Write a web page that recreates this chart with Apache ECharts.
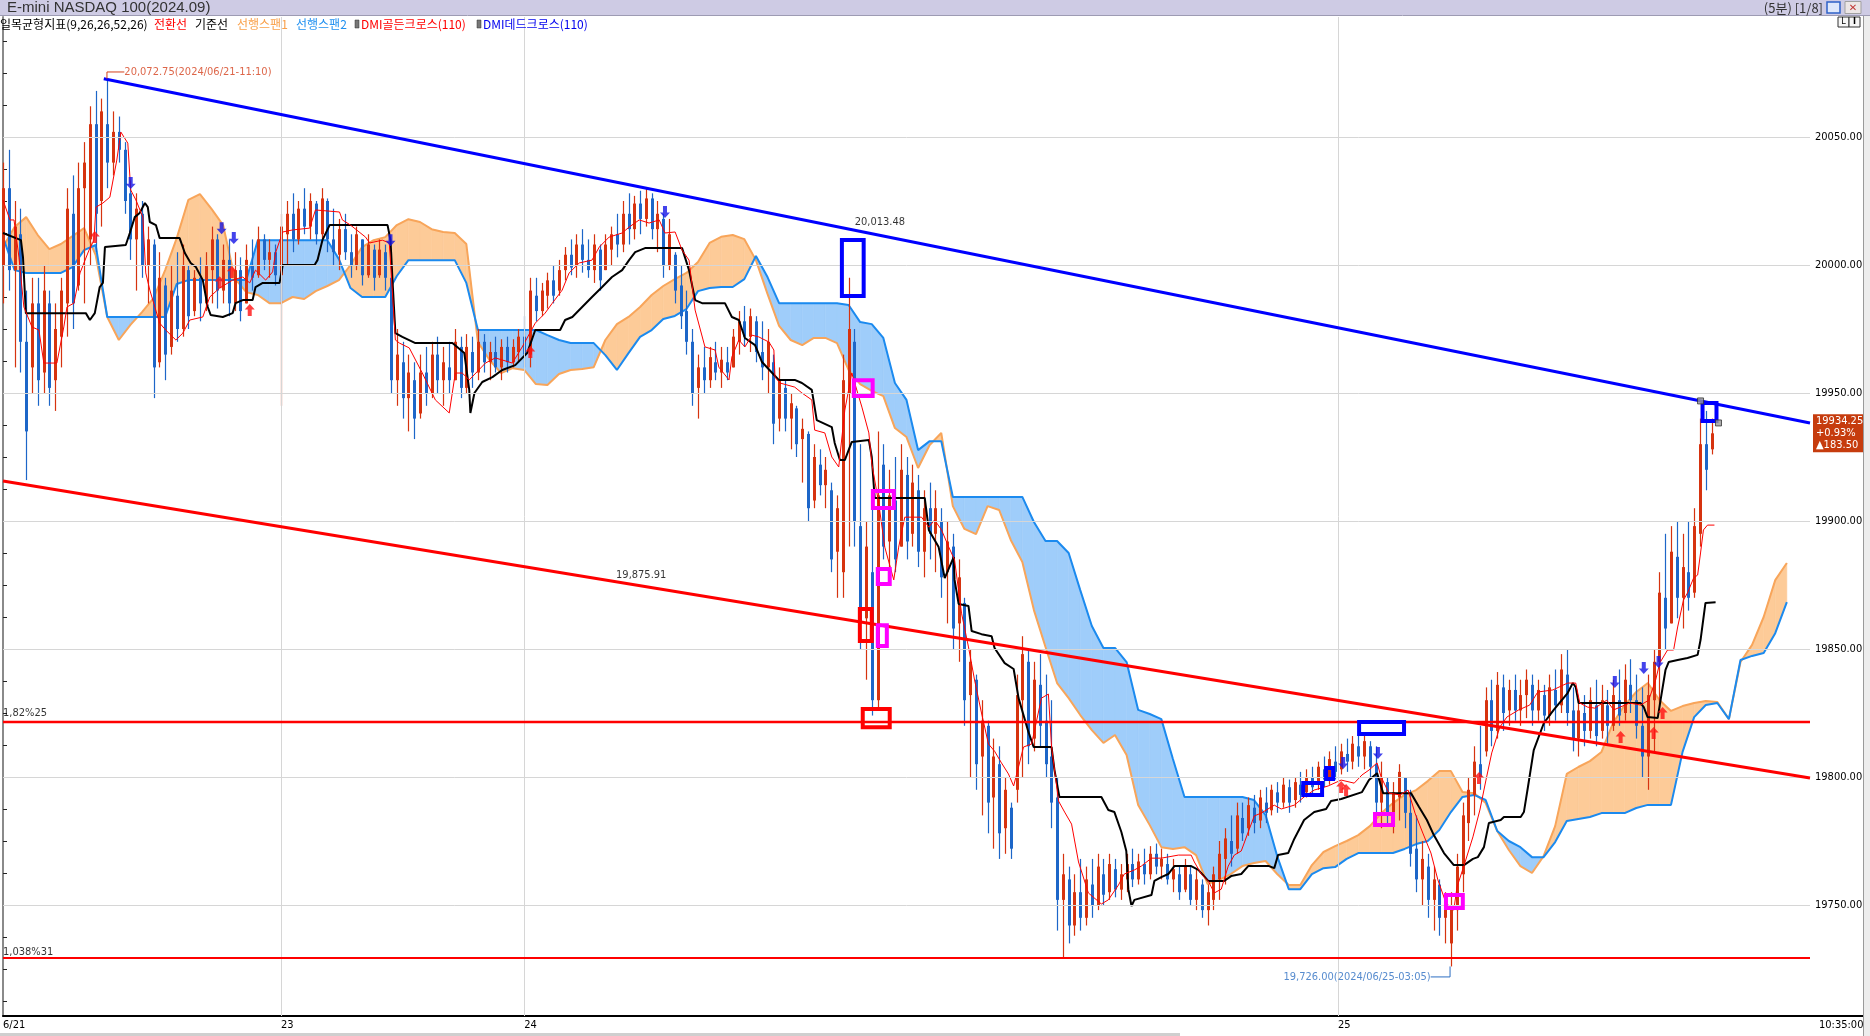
<!DOCTYPE html>
<html><head><meta charset="utf-8">
<script src="https://cdn.jsdelivr.net/npm/echarts/dist/echarts.min.js"></script>
<style>html,body{margin:0;padding:0;background:#fff;overflow:hidden}#c{width:1870px;height:1036px}</style>
</head><body><div id="c"></div><script>
// ---------- DATA ----------
const TITLE = 'E-mini NASDAQ 100(2024.09)';
const PERIOD = '(5분) [1/8]';
const X_TICKS = [0, 96, 180, 461, 624];
const X_TICK_LABELS = ['6/21', '23', '24', '25', '10:35:00'];
const X_GRID = [96, 180, 461];
const Y_LABELS = [19750, 19800, 19850, 19900, 19950, 20000, 20050];
const Y_MIN = 19706.64, Y_MAX = 20096.875, X_MAX = 624;

// 5-minute candles (one drawn every CANDLE_STEP bars): [open, close, low, high]
const CANDLE_STEP = 2;
const CANDLES = [
[20000,20030,19985,20040],[20030,19998,19990,20045],[19998,20015,19960,20025],[20012,19970,19958,20022],[19970,19935,19916,19990],
[19960,19985,19950,19995],[19985,19955,19945,19995],[19958,19990,19950,20000],[19985,19952,19945,19990],[19955,19975,19943,19985],
[19972,19990,19960,19995],[19985,20022,19972,20030],[20020,19985,19975,20035],[19992,20030,19990,20040],[20030,20040,19985,20048],
[20010,20055,20000,20062],[20055,20020,20005,20068],[20025,20060,20015,20065],[20055,20040,20030,20072.75],[20040,20052,20035,20060],
[20052,20045,20040,20058],[20045,20025,20020,20048],[20028,20010,20002,20033],[20010,20022,19990,20028],[20020,20000,19995,20025],
[20000,20010,19985,20015],[20008,19960,19948,20010],[19962,19995,19960,20005],[19992,19965,19955,19995],[19968,19990,19965,20000],
[19988,19975,19970,20005],[19975,20000,19972,20008],[19998,19980,19975,20000],[19982,19995,19980,19998],[19995,19985,19978,20003],
[19985,20000,19982,20005],[19998,20010,19985,20015],[20010,19990,19983,20012],[19990,20002,19985,20008],[20002,19985,19980,20010],
[19985,19998,19982,20005],[19998,19982,19978,20003],[19985,20002,19985,20008],[20000,19995,19990,20010],[19996,20010,19995,20015],
[20010,20002,19998,20012],[20002,20005,19995,20010],[20005,19996,19992,20008],[19996,20015,19945,20020],[20012,20020,20000,20025],
[20020,20010,20005,20028],[20010,20022,20008,20025],[20022,20015,20012,20030],[20015,20025,20010,20028],[20024,20012,20008,20025],
[20012,20026,20010,20030],[20025,20010,20005,20026],[20010,20005,20000,20022],[20004,20014,19998,20018],[20014,20005,20002,20020],
[20005,20000,19995,20012],[20000,20012,19998,20015],[20010,19996,19992,20010],[19996,20008,19995,20012],[20006,19995,19990,20008],
[19996,20006,19995,20010],[20005,19995,19990,20008],[19995,19955,19950,20005],[19955,19965,19945,19975],[19962,19948,19940,19970],
[19948,19958,19935,19965],[19955,19940,19932,19962],[19942,19958,19940,19965],[19958,19950,19945,19968],[19950,19965,19948,19970],
[19965,19955,19950,19972],[19955,19962,19945,19968],[19960,19955,19950,19970],[19955,19970,19955,19975],[19968,19952,19948,19972],
[19952,19968,19950,19973],[19966,19958,19952,19972],[19958,19970,19955,19975],[19970,19962,19958,19973],[19962,19966,19955,19970],
[19966,19960,19958,19972],[19960,19968,19955,19971],[19968,19962,19958,19972],[19962,19968,19960,19971],[19966,19972,19962,19975],
[19972,19965,19960,19980],[19965,19990,19960,19995],[19988,19982,19978,19995],[19982,19990,19980,19993],[19988,19994,19983,19997],
[19994,19988,19985,20000],[19990,19998,19988,20002],[19998,20004,19994,20007],[20004,19999,19996,20010],[20000,20008,19995,20012],
[20008,20002,19997,20014],[20002,19998,19995,20010],[19998,20008,19993,20012],[20006,19994,19990,20008],[19998,20008,19998,20012],
[20006,20012,20000,20015],[20012,20008,20003,20020],[20008,20020,20005,20025],[20020,20014,20008,20028],[20014,20024,20010,20027],
[20024,20018,20012,20029],[20018,20026,20015,20030],[20026,20014,20010,20028],[20014,20020,20005,20025],[20018,20000,19995,20020],
[20000,20012,19998,20018],[20004,19990,19985,20005],[19992,19980,19975,20000],[19982,19970,19965,19990],[19970,19950,19945,19975],
[19952,19960,19940,19965],[19960,19955,19950,19968],[19955,19964,19952,19968],[19962,19958,19955,19970],[19958,19963,19952,19968],
[19962,19958,19955,19968],[19960,19972,19960,19975],[19970,19978,19965,19982],[19978,19972,19968,19984],[19972,19980,19966,19983],
[19978,19966,19962,19980],[19966,19960,19955,19978],[19960,19970,19950,19975],[19962,19938,19930,19965],[19940,19955,19935,19960],
[19952,19940,19935,19955],[19940,19946,19928,19950],[19944,19930,19925,19945],[19932,19936,19915,19940],[19934,19905,19900,19935],
[19908,19925,19905,19930],[19922,19914,19910,19928],[19914,19920,19905,19925],[19912,19885,19880,19915],[19888,19905,19870,19910],
[19880,19955,19870,19965],[19950,19975,19890,19995],[19970,19900,19890,19975],[19898,19860,19850,19930],[19862,19890,19838,19900],
[19880,19830,19824,19905],[19830,19910,19826,19935],[19922,19890,19885,19930],[19892,19910,19875,19920],[19908,19885,19880,19925],
[19890,19920,19890,19930],[19918,19892,19885,19925],[19895,19915,19890,19922],[19912,19888,19882,19918],[19888,19905,19878,19912],
[19905,19895,19885,19915],[19895,19905,19880,19912],[19900,19878,19870,19905],[19880,19892,19860,19900],[19890,19858,19850,19895],
[19860,19878,19845,19885],[19868,19830,19820,19870],[19832,19845,19800,19850],[19838,19805,19795,19840],[19808,19822,19785,19830],
[19820,19790,19778,19822],[19792,19808,19772,19815],[19805,19778,19768,19812],[19780,19795,19770,19800],[19788,19772,19768,19790],
[19795,19832,19790,19840],[19830,19848,19800,19855],[19845,19812,19805,19850],[19815,19838,19810,19845],[19836,19820,19812,19848],
[19822,19805,19800,19840],[19808,19790,19780,19830],[19792,19752,19740,19800],[19752,19762,19729,19770],[19760,19742,19735,19765],
[19742,19755,19738,19762],[19755,19745,19740,19768],[19745,19760,19742,19765],[19758,19750,19745,19768],[19750,19765,19748,19770],
[19762,19754,19750,19768],[19755,19766,19752,19770],[19764,19756,19753,19768],[19756,19762,19752,19766],[19760,19766,19755,19770],
[19766,19760,19757,19772],[19760,19767,19758,19770],[19766,19762,19758,19772],[19762,19770,19760,19773],[19770,19765,19762,19774],
[19765,19768,19760,19772],[19766,19760,19758,19770],[19760,19764,19755,19768],[19762,19755,19752,19765],[19756,19765,19755,19768],
[19762,19752,19750,19765],[19752,19760,19748,19764],[19758,19748,19745,19760],[19748,19755,19742,19758],[19752,19762,19748,19765],
[19760,19770,19752,19775],[19768,19776,19758,19780],[19775,19770,19765,19785],[19772,19785,19770,19790],[19784,19778,19775,19790],
[19780,19789,19777,19792],[19788,19782,19778,19793],[19783,19792,19780,19795],[19790,19786,19782,19796],[19787,19795,19785,19797],
[19794,19790,19786,19798],[19790,19797,19788,19800],[19796,19790,19786,19799],[19791,19798,19788,19800],[19797,19793,19790,19802],
[19794,19800,19792,19803],[19800,19796,19793,19804],[19797,19804,19795,19806],[19803,19799,19796,19808],[19800,19807,19797,19810],
[19806,19802,19799,19812],[19803,19810,19801,19813],[19809,19806,19802,19815],[19806,19813,19803,19816],[19812,19808,19804,19818],
[19808,19814,19803,19817],[19812,19804,19800,19814],[19805,19790,19785,19812],[19790,19800,19780,19806],[19798,19786,19782,19800],
[19786,19794,19778,19798],[19792,19802,19783,19805],[19800,19786,19780,19800],[19786,19770,19765,19795],[19772,19760,19755,19785],
[19760,19768,19750,19775],[19765,19752,19745,19770],[19752,19760,19740,19765],[19758,19745,19738,19760],[19745,19750,19735,19755],
[19735,19750,19726,19755],[19748,19765,19740,19770],[19762,19785,19755,19790],[19782,19795,19775,19800],[19793,19806,19785,19812],
[19805,19800,19795,19820],[19810,19830,19808,19835],[19830,19818,19812,19838],[19818,19836,19815,19841],[19835,19825,19818,19840],
[19826,19834,19820,19838],[19834,19826,19822,19840],[19826,19832,19820,19838],[19832,19838,19823,19842],[19836,19826,19820,19840],
[19826,19834,19822,19838],[19832,19824,19818,19836],[19824,19835,19820,19840],[19834,19828,19822,19842],[19828,19842,19825,19848],
[19840,19825,19820,19850],[19826,19815,19810,19835],[19815,19826,19808,19830],[19825,19818,19812,19832],[19818,19830,19815,19835],
[19828,19816,19812,19838],[19818,19830,19815,19836],[19828,19820,19813,19834],[19820,19832,19818,19838],[19830,19824,19820,19842],
[19825,19838,19822,19844],[19836,19830,19825,19846],[19830,19820,19815,19840],[19820,19808,19800,19835],[19808,19832,19795,19840],
[19830,19845,19810,19850],[19845,19872,19825,19880],[19870,19858,19850,19895],[19860,19888,19860,19898],[19886,19870,19862,19900],
[19870,19882,19858,19895],[19880,19870,19865,19900],[19872,19898,19870,19905],[19895,19930,19890,19940],[19930,19920,19912,19943],
[19928,19934.25,19926,19940]
];

// Ichimoku: leading spans sampled every SPAN_STEP bars (already shifted 26 ahead)
const SPAN_STEP = 4;
const SPAN1 = [
20007.0,20014.8,20018.7,20011.7,20006.2,20008.2,20011.3,20014.4,20003.9,19979.7,
19970.7,19976.6,19981.6,19987.1,19998.0,20010.5,20025.4,20027.7,20021.9,20015.6,
19994.9,19989.4,19988.3,19985.1,19985.1,19987.5,19986.7,19989.8,19991.8,19994.1,
20000.0,20007.0,20009.7,20010.9,20015.6,20017.9,20016.8,20014.0,20012.9,20012.5,
20008.2,19969.9,19962.9,19957.8,19959.7,19959.0,19953.5,19953.1,19957.4,19959.0,
19959.4,19960.1,19970.7,19976.9,19979.7,19983.6,19988.3,19991.8,19994.5,19996.9,
20001.2,20008.6,20011.0,20011.7,20010.1,20001.9,19988.7,19976.2,19970.7,19968.7,
19971.5,19971.5,19969.5,19959.0,19953.5,19950.8,19948.8,19936.3,19932.8,19920.7,
19929.7,19934.4,19905.8,19896.9,19894.9,19905.8,19904.3,19892.6,19884.0,19865.2,
19850.8,19836.7,19830.8,19824.2,19818.3,19813.3,19816.4,19808.6,19789.1,19781.2,
19772.6,19771.9,19772.6,19769.5,19758.2,19759.8,19762.1,19765.2,19766.4,19767.2,
19762.1,19757.8,19757.8,19765.6,19770.7,19773.0,19775.0,19777.3,19780.8,19785.9,
19789.8,19793.0,19794.9,19798.4,19802.3,19802.3,19794.1,19793.7,19789.8,19778.9,
19771.5,19765.2,19762.5,19769.1,19780.8,19801.2,19803.9,19806.2,19809.8,19821.1,
19828.1,19833.2,19836.7,19830.1,19825.8,19827.7,19828.9,19829.7,19829.3,19822.6,
19844.9,19851.6,19862.5,19876.9,19883.6
];
const SPAN2 = [
20010.9,19998.0,19996.9,19996.9,19996.9,19996.9,19999.2,20005.8,20007.8,19979.7,
19979.7,19979.7,19979.7,19979.7,19979.7,19992.6,19994.1,19994.1,19994.1,19994.1,
19994.1,19994.1,20009.7,20009.7,20009.7,20009.7,20009.7,20009.7,20009.7,20002.3,
19991.0,19987.5,19987.5,19987.5,19995.7,20001.9,20001.9,20001.9,20001.9,20001.9,
19993.0,19974.6,19974.6,19974.6,19974.6,19974.6,19974.6,19972.6,19970.7,19969.5,
19969.5,19969.5,19964.8,19959.0,19965.6,19971.9,19974.6,19978.9,19980.1,19982.8,
19989.8,19991.0,19991.4,19991.4,19994.5,20003.5,19995.3,19985.1,19985.1,19985.1,
19985.1,19985.1,19985.1,19984.4,19977.7,19976.9,19971.5,19953.9,19947.3,19927.7,
19931.2,19931.2,19909.4,19909.4,19909.4,19909.4,19909.4,19909.4,19909.4,19899.6,
19892.2,19892.2,19887.5,19873.0,19859.0,19850.4,19850.4,19844.9,19826.2,19824.6,
19822.6,19807.0,19792.2,19792.2,19792.2,19792.2,19792.2,19792.2,19791.0,19785.1,
19769.1,19756.2,19756.2,19762.1,19764.4,19764.8,19768.0,19770.3,19770.3,19770.3,
19770.3,19771.9,19773.8,19775.0,19779.3,19786.3,19792.2,19793.0,19791.0,19778.9,
19775.0,19772.6,19768.7,19768.7,19774.6,19782.8,19783.6,19784.4,19785.9,19785.9,
19785.9,19787.9,19789.1,19789.1,19789.1,19809.8,19823.4,19828.1,19828.9,19822.6,
19845.7,19847.3,19848.4,19856.2,19868.3
];
// base line (기준선) and conversion line (전환선): [bar index, value]
const KIJUN = [[0,20012.5],[6.2,20009.7],[6.9,20003.1],[7.9,19981.2],[28.6,19981.2],[30,19978.5],[31.7,19981.2],[33.4,19991.4],[34.5,19993],[35.2,20007],[42.4,20007.8],[43.8,20012.5],[45.5,20018.7],[47.2,20020.3],[49,20024.2],[50,20022.6],[50.7,20016.8],[52.8,20015.6],[54.1,20010.5],[61,20010.5],[62.8,20004.7],[64.8,20000.8],[66.6,19999.2],[69,19994.1],[70.7,19983.6],[71.7,19980.5],[75.9,19979.7],[79.3,19981.2],[80.3,19985.1],[82.8,19986.3],[86.2,19986.3],[87.2,19991.4],[89.7,19993],[95.5,19993],[96.6,20000],[107.6,20000],[108.6,20001.9],[110.3,20009.7],[112.8,20015.6],[132.8,20015.6],[133.8,20009.7],[134.5,19994.1],[135.5,19973.4],[137.9,19971.9],[142.4,19969.5],[155.2,19969.5],[159.3,19965.6],[161,19951.2],[161.4,19942.2],[162.8,19950],[165.5,19954.3],[169,19956.2],[172.4,19959],[176.9,19960.9],[181,19965.6],[183.8,19974.6],[192.4,19974.6],[194.1,19978.5],[196.6,19979.7],[200,19983.6],[203.4,19987.5],[206.9,19991.4],[210.3,19995.3],[213.8,19998],[216.2,20001.9],[218.3,20005],[221.7,20006.6],[234.5,20006.6],[236.9,19998],[239,19986.3],[241.4,19985.1],[249.3,19985.1],[251.7,19979.7],[254.1,19978.5],[256.2,19971.5],[259.7,19968.7],[262.1,19962.1],[267.9,19955.1],[273.4,19955.1],[275.9,19953.9],[279.3,19951.2],[281,19939.4],[286.2,19936.7],[287.2,19930.5],[289,19923.8],[290.7,19923.8],[293.1,19930.9],[299,19931.6],[300,19925],[301,19909],[318.3,19909],[319.7,19896.5],[323.1,19889.8],[325.2,19877.7],[328.3,19885.9],[328.6,19877],[330,19867.6],[333.4,19866.8],[334.5,19857],[337.9,19855.8],[341.4,19855],[342.4,19850.4],[345.9,19844.5],[349,19842.2],[350.7,19830.8],[354.1,19817.6],[355.9,19811.7],[362.1,19811.7],[363.1,19802.7],[364.8,19792.2],[379.3,19792.2],[381.7,19787.1],[383.8,19786.3],[386.2,19778.5],[387.9,19771.1],[388.6,19756.2],[389.7,19749.6],[390.7,19752],[396.6,19753.9],[397.6,19759.4],[400,19760.9],[402.4,19762.1],[404.5,19765.2],[410.3,19765.2],[412.8,19763.7],[416.2,19759.4],[421.7,19759.4],[424.1,19761.3],[427.6,19762.1],[430,19765.2],[437.2,19765.2],[439,19764.4],[440.3,19769.5],[443.8,19770.3],[445.9,19775.8],[449.3,19783.2],[452.8,19786.3],[456.9,19787.5],[458.6,19790.6],[462.1,19791.4],[469.3,19794.1],[471.7,19798.8],[474.5,19801.5],[476.6,19793.7],[486.2,19793.7],[489,19788.3],[491.7,19783.2],[494.1,19777.3],[497.6,19770.3],[501,19765.6],[504.5,19765.6],[507.6,19768],[509.3,19768.7],[511.4,19772.6],[513.1,19782],[517.2,19783.2],[518.3,19784.4],[524.1,19784.4],[525.2,19786.3],[526.6,19796.1],[528.6,19810.5],[532.1,19821.1],[535.5,19826.2],[540.3,19832.8],[542.1,19836.7],[543.1,19835.1],[544.1,19828.9],[565.5,19828.9],[566.6,19827.3],[567.9,19823.4],[571.4,19823],[572.4,19830],[574.1,19841.8],[575.2,19844.9],[578.3,19845.7],[581.7,19846.5],[585.2,19847.7],[586.2,19853.5],[587.9,19868],[591.4,19868.3]];
const TENKAN = [[0,20025.4],[2.4,20017.6],[3.8,20017.6],[5.5,20003.1],[7.2,19983.6],[10,19975.8],[12.4,19974.6],[14.1,19961.7],[18.6,19961.7],[21,19975.8],[22.1,19983.6],[24.5,19985.1],[26.6,19996.9],[29.7,20005.8],[31.4,20009.7],[32.1,20022.6],[34.5,20024.2],[36.9,20026.5],[39.3,20041],[40.7,20051.9],[43.1,20047.6],[44.1,20029.3],[45.9,20025.4],[48.3,20018.7],[49.3,19996.9],[50.7,19990.2],[54.1,19977.3],[56.2,19974.6],[59.7,19970.7],[62.1,19973.4],[64.5,19978.5],[69,19979.7],[71.4,19987.5],[74.8,19991],[79.3,19994.1],[82.8,19995.3],[85.2,19993],[87.2,19998],[90.7,19994.1],[93.1,19997.3],[94.1,20004.7],[96.6,20012.9],[100,20013.7],[105.9,20014.4],[107.9,20021.5],[116.2,20020.7],[117.2,20017.6],[120,20015.6],[125.2,20010.9],[126.6,20008.6],[131,20009.7],[133.4,20008.6],[135.5,19970.7],[136.9,19969.5],[140.3,19967.6],[144.8,19957.8],[149.3,19947.3],[154.1,19942.2],[156.2,19957.8],[158.6,19957.8],[161,19955.1],[166.6,19961.7],[170,19963.7],[172.4,19962.9],[175.9,19961.7],[179.3,19968],[183.8,19977.3],[187.2,19981.2],[189.7,19985.1],[193.1,19990.2],[195.5,19996.9],[199,20000.8],[203.4,20001.9],[205.9,20007],[209.3,20010.9],[213.8,20012.5],[216.2,20014.8],[219.7,20017.6],[223.1,20016.4],[226.6,20017.6],[228.6,20012.5],[232.1,20012.9],[234.5,20005.8],[236.9,20001.9],[239,19982.4],[242.4,19968],[245.9,19966.8],[247.2,19960.1],[250.7,19955.1],[251.7,19964.1],[254.1,19970.7],[256.2,19968],[258.6,19972.6],[261,19971.9],[264.5,19969.9],[266.2,19966.8],[266.6,19956.2],[268.3,19953.9],[273.4,19952.3],[275.9,19950],[279.3,19947.3],[280.3,19935.5],[283.8,19934.4],[286.2,19925],[288.6,19921.1],[290.7,19943.3],[293.1,19957.8],[296.6,19944.5],[299,19934.4],[300,19922.6],[302.4,19907],[304.5,19889.8],[307.6,19877],[309.3,19889.8],[311.4,19901.5],[317.2,19901.5],[319.7,19897.6],[321.7,19900.4],[324.1,19896.5],[326.6,19889.8],[328.6,19884.8],[331,19864],[333.4,19850.8],[335.5,19837.9],[337.9,19825],[340.3,19812.9],[342.4,19810.1],[344.8,19805.5],[347.2,19801.2],[349,19796.5],[350.7,19804],[352.4,19811.7],[355.2,19812.9],[358.6,19830.8],[361,19832.4],[362.1,19811.7],[364.5,19790.6],[366.6,19786.3],[369,19781.6],[371.4,19766.8],[374.8,19754.7],[379.3,19750.4],[381.7,19752],[385.2,19757.8],[387.2,19762.1],[390.7,19763.7],[393.1,19765.2],[396.6,19768.3],[400,19768.3],[405.9,19769.5],[410.3,19769.5],[411.4,19766.8],[413.8,19762.1],[416.2,19759.4],[418.3,19754.7],[420.7,19756.2],[423.1,19765.2],[425.2,19769.5],[427.6,19771.1],[430,19778.5],[432.1,19784.8],[434.5,19785.9],[439,19789],[441.4,19787.5],[445.9,19789],[449.3,19792.2],[452.8,19794.9],[457.6,19796.5],[462.1,19798.8],[466.6,19797.6],[469.3,19800.8],[471.7,19802.7],[474.5,19805.5],[475.9,19800],[478.6,19793.7],[482.4,19793],[485.2,19794.9],[487.6,19785.9],[490.3,19778.1],[493.1,19770.3],[495.5,19759.8],[498.3,19750.8],[501,19748],[502.1,19757],[504.8,19766.4],[507.6,19776.6],[510,19787.1],[512.1,19798.8],[514.1,19809.4],[516.9,19819.5],[519.3,19823.4],[523.4,19826.2],[527.2,19828.1],[530,19833.2],[535.2,19834],[540.3,19836.7],[543.1,19836.7],[544.5,19828.9],[547.2,19827.3],[549.7,19826.9],[553.8,19830],[556.2,19826.2],[561.7,19828.9],[565.5,19828.1],[568.3,19830],[570.7,19837.9],[572.1,19844.5],[574.8,19849.6],[576.9,19849.6],[578.3,19858.6],[580.3,19869.1],[581.7,19871.9],[583.8,19877.7],[585.2,19878.9],[586.2,19887.5],[587.2,19896.5],[588.6,19898.4],[591,19898.4]];

// drawn trend lines / levels
const BLUE_TREND = [[34.8, 20072.75], [624, 19938.3]];
const RED_TREND = [[0, 19915.6], [624, 19799.6]];
const RED_LEVEL = 19821.5;
const LOW_LEVEL = 19729.3;
const BLUE_TREND_LABEL = [294.1, 20016.8, '20,013.48'];
const RED_TREND_LABEL = [211.7, 19878.9, '19,875.91'];
const LEVEL_LABELS = [[0, 19825.0, '1,82%25'], [0, 19731.6, '1,038%31']];
const HIGH_MARK = {x: 35.9, v: 20072.75, textX: 41.9, textV: 20075.4, text: '20,072.75(2024/06/21-11:10)'};
const LOW_MARK = {x: 499.7, v: 19726.0, textX: 493.0, textV: 19721.9, text: '19,726.00(2024/06/25-03:05)'};

// boxes: [x0, x1, topValue, bottomValue]
const BOX_BLUE = [[289.0,297.9,20010.5,19987.1],[586.2,592.4,19946.9,19938.3],[467.6,484.5,19822.3,19816.0],[456.2,460.0,19804.3,19798.4],[448.3,456.2,19798.4,19792.2]];
const BOX_MAGENTA = [[293.1,301.0,19955.8,19948.0],[299.7,308.3,19912.5,19904.3],[301.4,306.9,19882.0,19874.6],[301.4,305.9,19860.1,19850.4],[473.1,480.7,19786.3,19780.5],[497.6,504.8,19754.7,19748.0]];
const BOX_RED = [[295.2,300.7,19866.4,19852.3],[296.2,306.9,19827.3,19818.7]];
const BOX_HANDLES = [[586.2,19946.9],[592.4,19938.3]];

// DMI cross signals
const DMI_DEAD = [[44.1,20032.0],[75.5,20014.4],[79.7,20010.5],[133.8,20009.7],[228.6,20020.7],[462.8,19805.5],[474.8,19809.4],[556.6,19837.1],[566.6,19842.6],[571.7,19844.9]];
const DMI_GOLDEN = [[31.7,20010.9],[74.8,19993.3],[79.0,19997.3],[85.2,19982.4],[182.1,19966.0],[462.1,19796.1],[463.8,19794.9],[509.7,19799.6],[558.6,19815.6],[570.0,19817.2],[573.1,19825.0]];

const LAST_CLOSE = 19934.25, LAST_PCT = '+0.93%', LAST_CHG = '183.50';
const LEGEND = [
  ['일목균형지표(9,26,26,52,26)', 0, '#000000'], ['전환선', 154, '#ff0000'], ['기준선', 195, '#000000'],
  ['선행스팬1', 237, '#f9a04a'], ['선행스팬2', 296, '#1e8ff0'], ['DMI골든크로스(110)', 361, '#ff0000'], ['DMI데드크로스(110)', 483, '#0000ee']
];

// ---------- STYLE ----------
const NARROW = "'Liberation Sans Narrow','DejaVu Sans Condensed','Liberation Sans',sans-serif";
const KR = "'Noto Sans CJK KR','Noto Sans',sans-serif";
const C_UP = '#d6330f', C_DN = '#1d66c8';
const C_ORANGE_FILL = '#fdcb98', C_BLUE_FILL = '#9fcdfa';

function renderCandle(params, api) {
  const x = api.value(0), o = api.value(1), c = api.value(2), l = api.value(3), h = api.value(4);
  const pl = api.coord([x, l]), ph = api.coord([x, h]);
  const po = api.coord([x, o]), pc = api.coord([x, c]);
  const col = c >= o ? C_UP : C_DN;
  const cx = Math.round(pl[0]);
  const top = Math.min(po[1], pc[1]), bot = Math.max(po[1], pc[1]);
  return {type: 'group', children: [
    {type: 'line', shape: {x1: cx + 0.5, y1: ph[1], x2: cx + 0.5, y2: pl[1]}, style: {stroke: col, lineWidth: 1.2}},
    {type: 'rect', shape: {x: cx - 1, y: top, width: 3, height: Math.max(1.5, bot - top)}, style: {fill: col}}
  ]};
}

function renderCloud(params, api) {
  const ch = [];
  for (let i = 0; i < SPAN1.length - 1; i++) {
    const xa = i * SPAN_STEP, xb = (i + 1) * SPAN_STEP;
    const a0 = SPAN1[i], a1 = SPAN1[i + 1], b0 = SPAN2[i], b1 = SPAN2[i + 1];
    const d0 = a0 - b0, d1 = a1 - b1;
    const poly = (pts, up) => ch.push({type: 'polygon', shape: {points: pts.map(p => api.coord(p))},
      style: {fill: up ? C_ORANGE_FILL : C_BLUE_FILL, stroke: up ? C_ORANGE_FILL : C_BLUE_FILL, lineWidth: 0.6}});
    if (d0 * d1 >= 0) {
      poly([[xa, a0], [xb, a1], [xb, b1], [xa, b0]], (d0 + d1) >= 0);
    } else {
      const t = d0 / (d0 - d1), xm = xa + t * (xb - xa), ym = a0 + t * (a1 - a0);
      poly([[xa, a0], [xm, ym], [xa, b0]], d0 > 0);
      poly([[xm, ym], [xb, a1], [xb, b1]], d1 > 0);
    }
  }
  return {type: 'group', children: ch};
}

function renderBox(params, api) {
  const p0 = api.coord([api.value(0), api.value(2)]);
  const p1 = api.coord([api.value(1), api.value(3)]);
  return {type: 'rect', shape: {x: p0[0] + 2, y: p0[1] + 2, width: p1[0] - p0[0] - 4, height: p1[1] - p0[1] - 4},
    style: {fill: 'transparent', stroke: api.visual('color'), lineWidth: 4}};
}

function boxSeries(data, color) {
  return {type: 'custom', z: 6, silent: true, data: data, encode: {x: [0, 1], y: [2, 3]},
    itemStyle: {color: color}, renderItem: renderBox};
}
function lineSeries(data, color, width, z) {
  return {type: 'line', z: z, silent: true, data: data, symbol: 'none', showSymbol: false,
    lineStyle: {color: color, width: width}, animation: false};
}
function textSeries(items, color, pos) {
  return {type: 'scatter', z: 9, silent: true, symbolSize: 0,
    data: items.map(t => ({value: [t[0], t[1]], label: {show: true, formatter: t[2]}})),
    label: {show: true, position: pos, distance: 0, color: color, fontSize: 11, fontFamily: NARROW}};
}

const yTicks = [];
for (let v = 19712.5; v <= 20090; v += 12.5) yTicks.push(v);

const graphic = [
  {type: 'rect', z: 100, shape: {x: 0, y: 0, width: 1870, height: 15}, style: {fill: '#cecbe4'}},
  {type: 'line', z: 100, shape: {x1: 0, y1: 15.5, x2: 1870, y2: 15.5}, style: {stroke: '#9d9bb3', lineWidth: 1}},
  {type: 'text', z: 101, x: 7, y: 8, style: {text: TITLE, font: '15px "Liberation Sans", Arial, sans-serif', fill: '#333', textVerticalAlign: 'middle', verticalAlign: 'middle'}},
  {type: 'text', z: 101, x: 1823, y: 8, style: {text: PERIOD, font: '13px ' + KR, fill: '#333', textAlign: 'right', align: 'right', textVerticalAlign: 'middle', verticalAlign: 'middle'}},
  {type: 'rect', z: 101, shape: {x: 1827, y: 2, width: 13, height: 11}, style: {fill: '#dfe8fb', stroke: '#2f62c8', lineWidth: 1.5}},
  {type: 'rect', z: 101, shape: {x: 1845, y: 1.5, width: 16, height: 12}, style: {fill: '#ece6e6', stroke: '#a0a0a0', lineWidth: 1}},
  {type: 'text', z: 102, x: 1853, y: 8, style: {text: '✕', font: 'bold 10px "DejaVu Sans", sans-serif', fill: '#c03232', textAlign: 'center', align: 'center', textVerticalAlign: 'middle', verticalAlign: 'middle'}},
  {type: 'rect', z: 100, shape: {x: 1864, y: 16, width: 6, height: 1020}, style: {fill: '#ededed'}},
  {type: 'line', z: 100, shape: {x1: 1863.5, y1: 16, x2: 1863.5, y2: 1036}, style: {stroke: '#9a9a9a', lineWidth: 1}},
  {type: 'rect', z: 100, shape: {x: 1838, y: 17, width: 11, height: 10}, style: {fill: '#f6f6f6', stroke: '#333', lineWidth: 1}},
  {type: 'rect', z: 100, shape: {x: 1849, y: 17, width: 11, height: 10}, style: {fill: '#f6f6f6', stroke: '#333', lineWidth: 1}},
  {type: 'text', z: 101, x: 1843.5, y: 22, style: {text: 'L', font: '9px ' + NARROW, fill: '#000', textAlign: 'center', align: 'center', textVerticalAlign: 'middle', verticalAlign: 'middle'}},
  {type: 'text', z: 101, x: 1854.5, y: 22, style: {text: 'I', font: 'bold 9px ' + NARROW, fill: '#000', textAlign: 'center', align: 'center', textVerticalAlign: 'middle', verticalAlign: 'middle'}},
  {type: 'line', z: 100, shape: {x1: 1810, y1: 1016, x2: 1863, y2: 1016}, style: {stroke: '#000', lineWidth: 2}},
  {type: 'rect', z: 100, shape: {x: 0, y: 1033, width: 1180, height: 3}, style: {fill: '#cfcfcf'}}
];
LEGEND.forEach((it, i) => {
  if (i >= 5) graphic.push({type: 'rect', z: 100, shape: {x: it[1] - 6, y: 20, width: 4, height: 8}, style: {fill: '#777', stroke: '#333', lineWidth: 0.5}});
  graphic.push({type: 'text', z: 101, x: it[1], y: 24, style: {text: it[0], font: '12px ' + KR, fill: it[2], textVerticalAlign: 'middle', verticalAlign: 'middle'}});
});

const option = {
  animation: false,
  backgroundColor: '#ffffff',
  grid: {left: 0, right: 60, top: 17, bottom: 20},
  xAxis: {
    type: 'value', min: 0, max: X_MAX,
    axisLine: {show: true, onZero: false, lineStyle: {color: '#000', width: 2}},
    axisTick: {show: false}, splitLine: {show: false},
    axisLabel: {
      customValues: X_TICKS, align: 'left', margin: 4, color: '#000', fontSize: 11, fontFamily: NARROW,
      formatter: v => { const i = X_TICKS.indexOf(v); const s = i >= 0 ? X_TICK_LABELS[i] : ''; return i === X_TICKS.length - 1 ? '{r|' + s + '}' : s; },
      rich: {r: {padding: [0, 0, 0, 9], fontSize: 11, fontFamily: NARROW, color: '#000'}}
    }
  },
  yAxis: {
    type: 'value', position: 'right', min: Y_MIN, max: Y_MAX,
    axisLine: {show: true, lineStyle: {color: '#8a8a8a', width: 2}},
    axisTick: {show: true, customValues: yTicks, length: 4, lineStyle: {color: '#222'}},
    splitLine: {show: false},
    axisLabel: {customValues: Y_LABELS, formatter: v => Number(v).toFixed(2), margin: 5, color: '#000', fontSize: 11, fontFamily: NARROW}
  },
  graphic: graphic,
  series: [
    {type: 'line', z: 0, silent: true, data: [[0, Y_MIN]], symbol: 'none', lineStyle: {opacity: 0},
      markLine: {silent: true, symbol: ['none', 'none'], label: {show: false}, animation: false,
        lineStyle: {color: '#d6d6d6', width: 1, type: 'solid'},
        data: X_GRID.map(v => ({xAxis: v})).concat(Y_LABELS.map(v => ({yAxis: v})))}},
    {type: 'custom', z: 1, silent: true, data: [[0, 19900]], encode: {x: 0, y: 1}, renderItem: renderCloud},
    lineSeries(SPAN1.map((v, i) => [i * SPAN_STEP, v]), '#f8a55a', 2, 2),
    lineSeries(SPAN2.map((v, i) => [i * SPAN_STEP, v]), '#1b8aef', 2, 2),
    {type: 'custom', z: 3, silent: true, data: CANDLES.map((d, i) => [i * CANDLE_STEP, d[0], d[1], d[2], d[3]]),
      encode: {x: 0, y: [1, 2, 3, 4]}, renderItem: renderCandle},
    lineSeries(KIJUN, '#000000', 2, 4),
    lineSeries(TENKAN, '#ff0000', 1, 4),
    lineSeries([[0, RED_LEVEL], [X_MAX, RED_LEVEL]], '#ff0000', 2.5, 5),
    lineSeries([[0, LOW_LEVEL], [X_MAX, LOW_LEVEL]], '#ff0000', 2, 5),
    lineSeries(RED_TREND, '#ff0000', 3, 5),
    Object.assign(lineSeries(BLUE_TREND, '#0000ff', 3, 5), {
      markLine: {silent: true, symbol: ['none', 'none'], animation: false,
        lineStyle: {color: 'rgba(0,0,0,0)', width: 0},
        data: [{yAxis: LAST_CLOSE}],
        label: {show: true, position: 'end', distance: 3, formatter: LAST_CLOSE.toFixed(2) + '\n' + LAST_PCT + '\n▲' + LAST_CHG,
          backgroundColor: '#c63c0e', color: '#fff', fontSize: 11, lineHeight: 12, fontFamily: NARROW, padding: [1, 2, 1, 3], align: 'left'}}
    }),
    boxSeries(BOX_BLUE, '#0000ff'),
    boxSeries(BOX_MAGENTA, '#ff00ff'),
    boxSeries(BOX_RED, '#ff0000'),
    {type: 'scatter', z: 8, silent: true, data: BOX_HANDLES, symbol: 'rect', symbolSize: 6,
      itemStyle: {color: '#9a9a9a', borderColor: '#333', borderWidth: 1}},
    {type: 'scatter', z: 7, silent: true, data: DMI_DEAD, symbol: 'path://M3,0L7,0L7,6L10,6L5,11L0,6L3,6Z',
      symbolSize: [10, 12], itemStyle: {color: '#1414e6'}},
    {type: 'scatter', z: 7, silent: true, data: DMI_GOLDEN, symbol: 'path://M5,0L10,5L7,5L7,11L3,11L3,5L0,5Z',
      symbolSize: [10, 12], itemStyle: {color: '#ff1010'}},
    lineSeries([[HIGH_MARK.textX, HIGH_MARK.textV], [HIGH_MARK.x, HIGH_MARK.textV], [HIGH_MARK.x, HIGH_MARK.v]], '#d4401c', 1, 8),
    lineSeries([[LOW_MARK.textX, LOW_MARK.textV], [LOW_MARK.x, LOW_MARK.textV], [LOW_MARK.x, LOW_MARK.v]], '#2c6ec2', 1, 8),
    textSeries([[HIGH_MARK.textX, HIGH_MARK.textV, HIGH_MARK.text]], '#d4401c', 'right'),
    textSeries([[LOW_MARK.textX, LOW_MARK.textV, LOW_MARK.text]], '#2c6ec2', 'left'),
    textSeries([BLUE_TREND_LABEL, RED_TREND_LABEL], '#000000', 'right'),
    textSeries(LEVEL_LABELS, '#000000', 'right')
  ]
};

const chart = echarts.init(document.getElementById('c'), null, {renderer: 'canvas', width: 1870, height: 1036});
chart.setOption(option);
</script></body></html>
